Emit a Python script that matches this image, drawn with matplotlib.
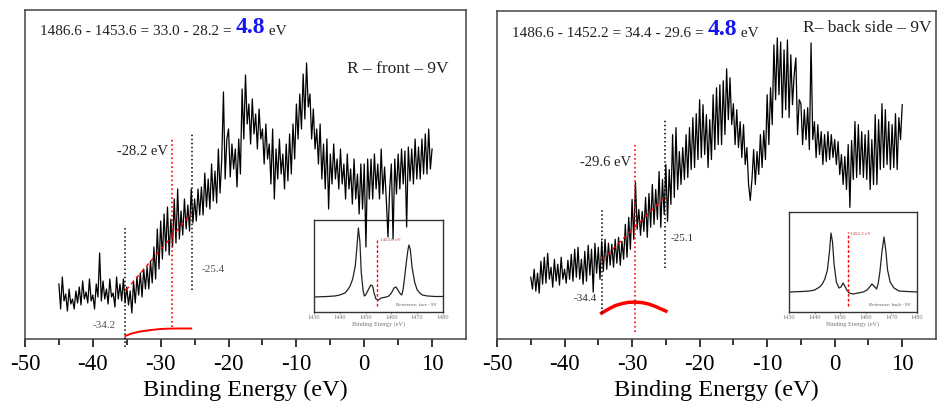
import matplotlib.pyplot as plt
import numpy as np

plt.rcParams['font.family'] = ['Liberation Serif', 'DejaVu Serif']
plt.rcParams['axes.unicode_minus'] = False

# binding energy grid (eV), heights are in arbitrary intensity units
energy = np.arange(-45, 10.01, 0.25)

front = [
    55, 30, 62, 38,  45, 28, 50, 35,  40, 30, 48, 36,  52, 34, 58, 40,
    47, 36, 60, 38,  44, 30, 55, 42,  86, 38, 58, 40,  50, 35, 60, 42,
    46, 32, 62, 40,  55, 38, 60, 36,  52, 34, 48, 26,  58, 36, 62, 44,
    66, 42, 70, 50,  72, 50, 78, 56,  92, 60, 110, 70,  118, 80, 125, 88,
    132, 84, 120, 92,  140, 96, 150, 100,  128, 104, 140, 110,  134, 108, 150, 116,
    140, 118, 150, 124,  152, 124, 166, 132,  160, 130, 175, 138,  168, 136, 190, 146,
    180, 247, 160, 200,  210, 162, 195, 170,  190, 152, 200, 165,  250, 200, 264, 215,
    235, 195, 240, 205,  225, 190, 230, 200,  210, 175, 215, 180,  195, 155, 210, 140,
    190, 160, 200, 165,  185, 150, 195, 158,  205, 165, 215, 180,  235, 200, 245, 210,
    265, 220, 276, 232,  245, 200, 230, 190,  210, 175, 215, 160,  195, 150, 200, 130,
    185, 155, 195, 160,  180, 150, 190, 155,  175, 140, 185, 150,  170, 135, 180, 140,
    165, 125, 175, 130,  175, 92, 180, 140,  180, 140, 185, 150,  175, 140, 190, 145,
    172, 140, 102, 150,  175, 100, 180, 145,  185, 150, 190, 155,  188, 112, 192, 158,
    190, 155, 200, 160,  192, 160, 200, 165,  205, 165, 210, 170,  190,
]

back = [
    62, 50, 70, 48,  66, 46, 78, 55,  82, 56, 86, 60,  72, 52, 80, 58,
    75, 54, 82, 60,  70, 56, 79, 60,  85, 58, 90, 62,  92, 60, 80, 55,
    88, 58, 94, 64,  90, 47, 96, 66,  92, 60, 98, 68,  100, 70, 96, 74,
    95, 72, 100, 76,  102, 74, 98, 80,  115, 82, 122, 90,  140, 100, 157, 110,
    130, 104, 128, 108,  142, 102, 146, 112,  155, 115, 150, 120,  168, 112, 160, 125,
    175, 118, 170, 135,  205, 142, 212, 150,  188, 155, 192, 160,  205, 162, 212, 170,
    222, 172, 226, 180,  240, 182, 235, 185,  225, 172, 220, 180,  245, 190, 252, 195,
    255, 195, 259, 205,  271, 220, 262, 215,  236, 195, 230, 192,  218, 182, 215, 175,
    192, 155, 139, 160,  190, 155, 188, 165,  205, 172, 209, 180,  245, 195, 252, 215,
    295, 240, 302, 245,  298, 222, 290, 230,  300, 222, 285, 235,  265, 282, 205, 240,
    236, 195, 230, 200,  232, 190, 297, 200,  218, 182, 215, 185,  208, 175, 205, 178,
    208, 180, 205, 182,  200, 175, 198, 165,  185, 155, 183, 150,  195, 132, 199, 160,
    218, 162, 215, 165,  208, 162, 205, 160,  209, 150, 200, 155,  225, 155, 220, 170,
    236, 172, 230, 175,  218, 170, 215, 172,  226, 170, 222, 200,  235,
]

# linear onset fits
front_fit_x = [-35.1, -25.4]
front_fit_y = [49, 126]
back_fit_x = [-34.5, -24.9]
back_fit_y = [79, 144]

# derivative-like red curves at the bottom
front_deriv_x = [-35.2, -34.5, -34, -33, -32, -31, -30, -29, -28, -27, -25.5]
front_deriv_y = [3, 5, 6, 7.5, 8.5, 9.3, 10, 10.3, 10.5, 10.5, 10.5]
back_deriv_x = [-34.5, -33.5, -32.5, -31.5, -30.5, -29.6, -28.5, -27.5, -26.5, -25.5, -25]
back_deriv_y = [26, 30, 33.5, 35.5, 36.8, 37, 36.5, 35, 32.5, 29.5, 28]

# reference spectra for the insets (x in eV)
ref_front_x = [1430, 1435, 1438, 1440, 1442, 1443, 1444, 1445, 1446, 1446.6, 1447.2, 1447.8,
               1448.3, 1449, 1449.5, 1450, 1451, 1452, 1452.7, 1453.3, 1454, 1455, 1456, 1458,
               1459, 1460, 1461, 1461.8, 1462.5, 1463.5, 1464, 1464.5, 1465, 1465.8, 1466.4,
               1466.8, 1467.3, 1468, 1469, 1470, 1471, 1472, 1474, 1477, 1480]
ref_front_y = [15, 15.5, 16, 17, 19, 22, 26, 33, 46, 64, 84, 70,
               40, 22, 16, 17, 22, 27, 26, 19, 13, 12, 14, 15,
               16, 19, 24, 25, 22, 18, 17, 22, 32, 50, 62,
               67, 63, 45, 30, 22, 19, 17, 16, 15.5, 15.5]
ref_back_x = [1430, 1435, 1438, 1440, 1442, 1443, 1444, 1445, 1445.8, 1446.4, 1447, 1447.6,
              1448.5, 1449.5, 1450.3, 1451.1, 1451.8, 1452.6, 1453.5, 1455, 1457, 1459, 1460.5,
              1461.5, 1462.4, 1463.2, 1464.2, 1464.8, 1465.5, 1466.3, 1467.1, 1467.8, 1468.5,
              1469.5, 1471, 1473, 1476, 1480]
ref_back_y = [20, 20.5, 21, 22, 25, 28, 33, 42, 60, 79, 70, 48,
              30, 24, 25, 29, 26, 22, 19, 18, 19, 20, 22,
              25, 28, 26, 23, 28, 40, 60, 75, 62, 42,
              30, 24, 21, 20.5, 20]

fig = plt.figure(figsize=(9.38, 4.03), dpi=100)
ax1 = fig.add_axes([25/938, 1-339/403, 441/938, 329/403])
ax2 = fig.add_axes([497/938, 1-339/403, 439/938, 328/403])

panels = [
    (ax1, front, front_fit_x, front_fit_y, front_deriv_x, front_deriv_y,
     -35.3, (-8, 111), -25.4, (49, 206), -28.3, (12, 202), 1.4),
    (ax2, back, back_fit_x, back_fit_y, back_deriv_x, back_deriv_y,
     -34.5, (26, 131), -25.1, (71, 221), -29.6, (7, 197), 2.5),
]

for ax, ys, fx, fy, dx, dy, bl, bly, br, bry, rv, rvy, dlw in panels:
    ax.plot(energy, ys, color='black', lw=0.9, zorder=5)
    ax.plot(fx, fy, color='red', lw=1.0, ls=(0, (3, 2.5)), zorder=6)
    ax.plot(dx, dy, color='red', lw=dlw, zorder=6, clip_on=False)
    ax.plot([bl, bl], bly, color='black', lw=1.1, ls=':', zorder=6, clip_on=False)
    ax.plot([br, br], bry, color='black', lw=1.1, ls=':', zorder=6)
    ax.plot([rv, rv], rvy, color='red', lw=1.2, ls=':', zorder=6)
    ax.set_xlim(-50, 15)
    ax.set_ylim(0, 329)
    ax.set_xticks(np.arange(-50, 11, 10))
    ax.set_xticks(np.arange(-45, 15, 10), minor=True)
    ax.set_yticks([])
    ax.tick_params(axis='x', which='major', length=6, width=1.1, labelsize=16.5, pad=5)
    ax.tick_params(axis='x', which='minor', length=4, width=1.1)
    for s in ax.spines.values():
        s.set_color('#444444')
        s.set_linewidth(1.1)
    ax.set_xlabel('Binding Energy (eV)', fontsize=17.5, labelpad=3)

# headline equations
t = ax1.text(0.035, 0.925, '1486.6 - 1453.6 = 33.0 - 28.2 = ', transform=ax1.transAxes,
             fontsize=11, color='#222222', va='baseline')
t = ax1.annotate('4.8', xy=(1, 0), xycoords=t, va='bottom', fontsize=17,
                 fontweight='bold', color='#1515ee')
ax1.annotate(' eV', xy=(1, 0), xycoords=t, va='bottom', fontsize=11, color='#222222')
ax1.text(0.96, 0.81, 'R \u2013 front \u2013 9V', transform=ax1.transAxes, fontsize=12.5,
         ha='right', color='#222222')

t = ax2.text(0.035, 0.922, '1486.6 - 1452.2 = 34.4 - 29.6 = ', transform=ax2.transAxes,
             fontsize=11, color='#222222', va='baseline')
t = ax2.annotate('4.8', xy=(1, 0), xycoords=t, va='bottom', fontsize=17,
                 fontweight='bold', color='#1515ee')
ax2.annotate(' eV', xy=(1, 0), xycoords=t, va='bottom', fontsize=11, color='#222222')
ax2.text(0.99, 0.935, 'R\u2013 back side \u2013 9V', transform=ax2.transAxes, fontsize=12.5,
         ha='right', color='#222222')

# onset labels
ax1.text(-28.9, 187, '-28.2 eV', fontsize=10.5, ha='right', va='center', color='#222222')
ax1.text(-24.0, 70, '-25.4', fontsize=8, ha='left', va='center', color='#555555')
ax1.text(-38.4, 13, '-34.2', fontsize=8, ha='center', va='center', color='#555555')
ax2.text(-30.2, 177, '-29.6 eV', fontsize=10.5, ha='right', va='center', color='#222222')
ax2.text(-24.3, 101, '-25.1', fontsize=8, ha='left', va='center', color='#333333')
ax2.text(-36.9, 41, '-34.4', fontsize=8, ha='center', va='center', color='#333333')

# insets with the reference spectra
insets = [
    ([314/938, 1-312/403, 129/938, 92/403], ref_front_x, ref_front_y, 92, 1454.4,
     '1453.6 eV', 'Reference: face - 9V'),
    ([789/938, 1-312/403, 128/938, 100/403], ref_back_x, ref_back_y, 100, 1453.0,
     '1452.2 eV', 'Reference: back - 9V'),
]
for rect, rx, ry, top, line_x, lab, ref in insets:
    ins = fig.add_axes(rect, facecolor='none')
    ins.set_zorder(0)
    ins.plot(rx, ry, color='#222222', lw=0.9)
    ins.plot([line_x, line_x], [top*0.06, top*0.8], color='red', lw=1.0, ls=(0, (2, 1.5)))
    ins.text(line_x + 1, top*0.78, lab, fontsize=3.5, color='#aa3333', va='center')
    ins.text(0.95, 0.06, ref, transform=ins.transAxes, fontsize=3.5, ha='right',
             color='#555555')
    ins.set_xlim(1430, 1480)
    ins.set_ylim(0, top)
    ins.set_xticks(np.arange(1430, 1481, 10))
    ins.set_yticks([])
    ins.tick_params(axis='x', length=1.5, width=0.5, labelsize=4.5, pad=1,
                    labelcolor='#777777', color='#777777')
    for s in ins.spines.values():
        s.set_color('#333333')
        s.set_linewidth(1.0)
    ins.set_xlabel('Binding Energy (eV)', fontsize=4.5, labelpad=0.5, color='#777777')

ax1.set_zorder(2)
ax2.set_zorder(2)
ax1.patch.set_alpha(0)
ax2.patch.set_alpha(0)

fig.savefig('out.png', dpi=100, facecolor='white')
